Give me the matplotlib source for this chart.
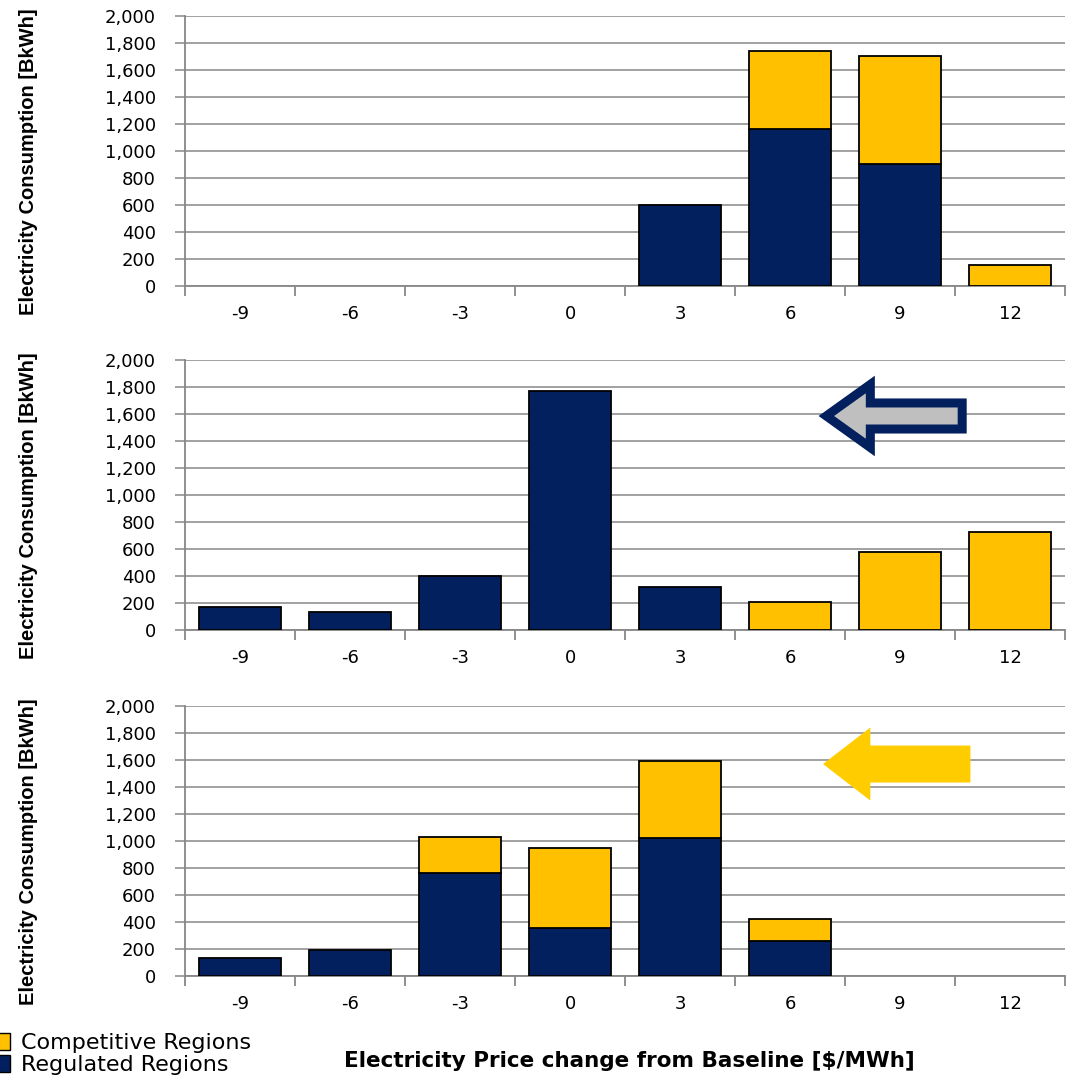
import numpy as np
import matplotlib.pyplot as plt
from matplotlib.patches import FancyArrow, Patch
from matplotlib.ticker import FuncFormatter, FixedLocator

# Price change categories ($/MWh)
categories = [-9, -6, -3, 0, 3, 6, 9, 12]

# Electricity consumption (BkWh) for each panel
top_regulated = [0, 0, 0, 0, 600, 1160, 900, 0]
top_competitive = [0, 0, 0, 0, 0, 580, 800, 155]

mid_regulated = [170, 130, 400, 1770, 320, 0, 0, 0]
mid_competitive = [0, 0, 0, 0, 0, 210, 575, 725]

bot_regulated = [130, 190, 760, 355, 1025, 257, 0, 0]
bot_competitive = [0, 0, 267, 595, 565, 163, 0, 0]

NAVY = '#02205E'
GOLD = '#FFC000'
GRID = '#878787'

fig = plt.figure(figsize=(10.72, 10.8), dpi=100)

left, width, height = 0.1726, 0.8209, 0.25
bottoms = [0.7352, 0.4167, 0.0963]

panels = [
    (top_regulated, top_competitive),
    (mid_regulated, mid_competitive),
    (bot_regulated, bot_competitive),
]

x = np.arange(len(categories))
axes = []
for (reg, comp), b in zip(panels, bottoms):
    ax = fig.add_axes([left, b, width, height])
    reg = np.array(reg, dtype=float)
    comp = np.array(comp, dtype=float)
    # skip empty segments so no outline is drawn on the baseline
    m = reg > 0
    ax.bar(x[m], reg[m], width=0.75, color=NAVY, edgecolor='black',
           linewidth=1.3, zorder=3)
    m = comp > 0
    ax.bar(x[m], comp[m], bottom=reg[m], width=0.75, color=GOLD,
           edgecolor='black', linewidth=1.3, zorder=3)

    ax.set_xlim(-0.5, len(categories) - 0.5)
    ax.set_ylim(0, 2000)
    ax.set_yticks(np.arange(0, 2001, 200))
    ax.yaxis.set_major_formatter(FuncFormatter(lambda v, p: f'{int(v):,}'))
    ax.grid(axis='y', color=GRID, linewidth=1.1, zorder=0)
    ax.set_axisbelow(True)

    ax.set_xticks(x)
    ax.set_xticklabels([str(c) for c in categories])
    ax.xaxis.set_minor_locator(FixedLocator(np.arange(-0.5, len(categories), 1)))
    ax.tick_params(axis='x', which='major', length=0, pad=14, labelsize=13)
    ax.tick_params(axis='x', which='minor', length=7, width=1.3, color=GRID)
    ax.tick_params(axis='y', length=7, width=1.1, color=GRID, pad=14,
                   labelsize=13)

    for s in ['top', 'right']:
        ax.spines[s].set_visible(False)
    for s in ['left', 'bottom']:
        ax.spines[s].set_color(GRID)
        ax.spines[s].set_linewidth(1.3)

    ax.set_ylabel('Electricity Consumption [BkWh]', family='Liberation Sans',
                  fontweight='bold', fontsize=14.5)
    ax.yaxis.set_label_coords(-0.167, 0.46)
    axes.append(ax)

# Shift arrows
axes[1].add_patch(FancyArrow(6.565, 1585, -1.235, 0, width=193, head_width=467,
                             head_length=0.40, length_includes_head=True,
                             facecolor='#BFBFBF', edgecolor=NAVY, linewidth=6.5,
                             joinstyle='miter', zorder=4))
axes[2].add_patch(FancyArrow(6.64, 1570, -1.34, 0, width=274, head_width=541,
                             head_length=0.43, length_includes_head=True,
                             facecolor='#FFCC00', edgecolor='none', zorder=4))

fig.text(0.587, 0.018, 'Electricity Price change from Baseline [$/MWh]',
         ha='center', va='center', fontweight='bold', fontsize=15.5)

handles = [Patch(facecolor=GOLD, edgecolor='black', linewidth=1),
           Patch(facecolor=NAVY, edgecolor='black', linewidth=1)]
fig.legend(handles, ['Competitive Regions', 'Regulated Regions'],
           loc='lower left', bbox_to_anchor=(-0.016, -0.004), frameon=False,
           fontsize=16, handlelength=0.8, handleheight=0.8, handletextpad=0.5,
           labelspacing=0.1, borderaxespad=0)

fig.savefig('out.png', dpi=100)
